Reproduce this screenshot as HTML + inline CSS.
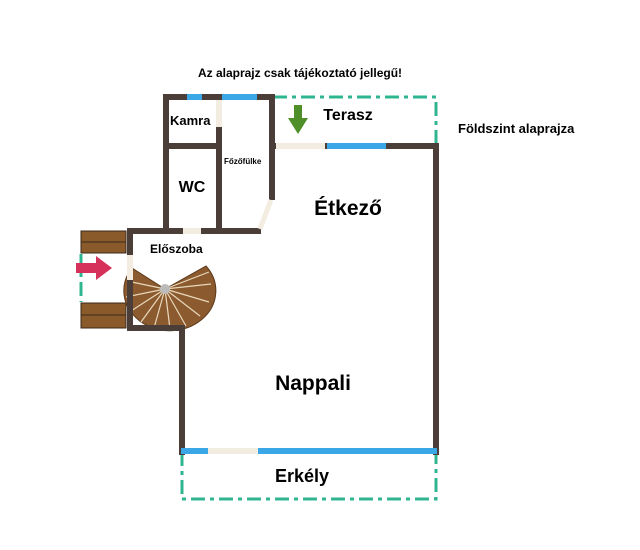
<!DOCTYPE html>
<html><head><meta charset="utf-8"><style>
body{margin:0;background:#fff;}
svg{display:block;font-family:"Liberation Sans",sans-serif;font-weight:bold;}
</style></head><body>
<svg width="640" height="550" viewBox="0 0 640 550">
<rect width="640" height="550" fill="#fff"/>
<!-- dashed areas -->
<g fill="none" stroke="#2fb58f" stroke-width="3" stroke-dasharray="14,5,4,5">
<rect x="273" y="97" width="163" height="48"/>
<rect x="182" y="452" width="254" height="47"/>
<line x1="81" y1="254" x2="81" y2="302"/>
</g>
<!-- stair planks -->
<g fill="#8a5a2b" stroke="#3a2a1a" stroke-width="1">
<rect x="81" y="231" width="45" height="11"/><rect x="81" y="242" width="45" height="11"/>
<rect x="81" y="303" width="45" height="12"/><rect x="81" y="315" width="45" height="13"/>
</g>
<!-- spiral stairs -->
<path d="M165 289 L206 266 A46 40 0 1 1 132 268 Z" fill="#8b5a2e" stroke="#5a3a1c"/>
<g stroke="#e8d8bc" stroke-width="1.2">
<line x1="165" y1="289" x2="211" y2="284"/><line x1="165" y1="289" x2="209" y2="302"/>
<line x1="165" y1="289" x2="200" y2="316"/><line x1="165" y1="289" x2="186" y2="326"/>
<line x1="165" y1="289" x2="170" y2="329"/><line x1="165" y1="289" x2="154" y2="328"/>
<line x1="165" y1="289" x2="141" y2="322"/><line x1="165" y1="289" x2="131" y2="311"/>
<line x1="165" y1="289" x2="126" y2="297"/><line x1="165" y1="289" x2="127" y2="281"/>
<line x1="165" y1="289" x2="209" y2="272"/>
</g>
<circle cx="165" cy="289" r="5" fill="#bbb"/>
<!-- walls -->
<g stroke="#4b3e38" stroke-width="6" fill="none" stroke-linecap="square">
<path d="M166 228 V97 H272 V197"/>
<line x1="219" y1="97" x2="219" y2="228"/>
<line x1="166" y1="146" x2="219" y2="146"/>
<path d="M130 328 V231 H258"/>
<path d="M130 328 H182 V452"/>
<path d="M273 146 H436 V452"/>
</g>
<!-- doors / windows -->
<g stroke-width="6">
<line x1="187" y1="97" x2="202" y2="97" stroke="#3ba7e6"/>
<line x1="222" y1="97" x2="257" y2="97" stroke="#3ba7e6"/>
<line x1="219" y1="100" x2="219" y2="127" stroke="#f3ece0"/>
<line x1="276" y1="146" x2="325" y2="146" stroke="#f3ece0"/>
<line x1="327" y1="146" x2="386" y2="146" stroke="#3ba7e6"/>
<line x1="183" y1="231" x2="201" y2="231" stroke="#f3ece0"/>
<line x1="130" y1="255" x2="130" y2="280" stroke="#f3ece0"/>
<line x1="271" y1="200" x2="260" y2="229" stroke="#f3ece0" stroke-width="5"/>
<line x1="181" y1="451" x2="437" y2="451" stroke="#3ba7e6"/>
<line x1="208" y1="451" x2="258" y2="451" stroke="#f3ece0"/>
</g>
<!-- arrows -->
<path d="M76 263 H96 V256 L112 268 L96 280 V273 H76 Z" fill="#d6315a"/>
<path d="M294 105 V118 H288 L298 134 L308 118 H302 V105 Z" fill="#4f8f2a"/>
<!-- labels -->
<g fill="#000">
<text x="300" y="77" font-size="12" text-anchor="middle">Az alaprajz csak tájékoztató jellegű!</text>
<text x="458" y="133" font-size="13">Földszint alaprajza</text>
<text x="170" y="125" font-size="13">Kamra</text>
<text x="348" y="120" font-size="16" text-anchor="middle">Terasz</text>
<text x="224" y="164" font-size="8">Főzőfülke</text>
<text x="192" y="192" font-size="16" text-anchor="middle">WC</text>
<text x="348" y="215" font-size="21" text-anchor="middle">Étkező</text>
<text x="150" y="253" font-size="12">Előszoba</text>
<text x="313" y="390" font-size="21" text-anchor="middle">Nappali</text>
<text x="302" y="482" font-size="18" text-anchor="middle">Erkély</text>
</g>
</svg>
</body></html>
